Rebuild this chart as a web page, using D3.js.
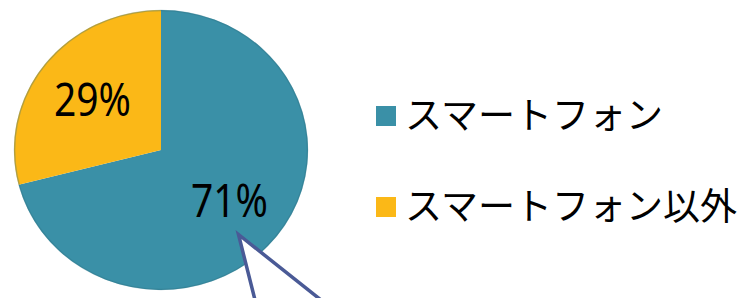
<!DOCTYPE html>
<html><head><meta charset="utf-8">
<script src="https://cdn.jsdelivr.net/npm/d3@7"></script>
<style>html,body{margin:0;padding:0;background:#fff;}svg{display:block;}</style>
</head><body>
<svg id="chart" width="742" height="298"></svg>
<script>
const categories = ["スマートフォン", "スマートフォン以外"];
const values = [71, 29];
const labels = ["71%", "29%"];
const colors = ["#3a90a7", "#fbb817"];

const svg = d3.select("#chart");
const cx = 161, cy = 150, R = 147, sy = 0.952;

const pie = d3.pie().sort(null).value(d => d)(values);
const arc = d3.arc().innerRadius(0).outerRadius(R);
const labelArc = d3.arc().innerRadius(R * 0.59).outerRadius(R * 0.59);

const g = svg.append("g").attr("transform", `translate(${cx},${cy}) scale(1,${sy})`);
g.selectAll("path.slice").data(pie).join("path")
  .attr("class", "slice")
  .attr("d", arc)
  .attr("fill", (d, i) => colors[i]);
g.append("ellipse").attr("rx", R - 0.5).attr("ry", R - 0.5)
  .attr("fill", "none").attr("stroke", "#2f6f80").attr("stroke-opacity", 0.35).attr("stroke-width", 1.5);

svg.selectAll("text.pct").data(pie).join("text")
  .attr("class", "pct")
  .attr("x", d => cx + labelArc.centroid(d)[0])
  .attr("y", d => cy + labelArc.centroid(d)[1] * sy + 16.5)
  .attr("text-anchor", "middle")
  .attr("font-family", "'Noto Sans', sans-serif")
  .attr("font-size", 45)
  .attr("textLength", 77)
  .attr("lengthAdjust", "spacingAndGlyphs")
  .attr("fill", "#000")
  .text((d, i) => labels[i]);

// callout pointer
const callout = d3.path();
callout.moveTo(255, 300);
callout.lineTo(238.5, 234.5);
callout.lineTo(321, 300);
svg.append("path").attr("d", callout.toString())
  .attr("fill", "#fff").attr("stroke", "#4a5a96").attr("stroke-width", 3.5)
  .attr("stroke-linejoin", "miter");

// legend
const ly = d3.scalePoint().domain(categories).range([116, 207]);
const leg = svg.selectAll("g.leg").data(categories).join("g").attr("class", "leg")
  .attr("transform", d => `translate(376,${ly(d)})`);
leg.append("rect").attr("x", 0).attr("y", -10).attr("width", 20).attr("height", 20)
  .attr("fill", (d, i) => colors[i]);
leg.append("text").attr("x", 29).attr("y", 0).attr("dy", "0.36em")
  .attr("font-family", "'Noto Sans CJK JP', sans-serif").attr("font-size", 37)
  .attr("fill", "#000").text(d => d);
</script>
</body></html>
